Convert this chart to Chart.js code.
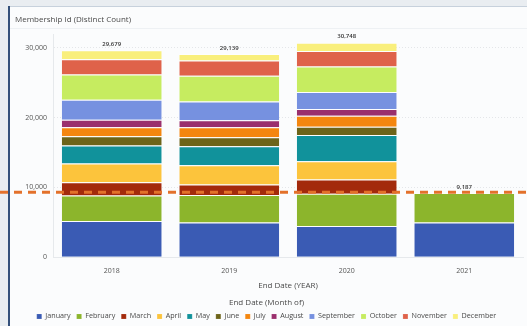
<!DOCTYPE html>
<html>
<head>
<meta charset="utf-8">
<script src="https://cdn.jsdelivr.net/npm/chart.js@4"></script>
<style>
  html, body { margin: 0; padding: 0; background: #e9edf1; }
  #wrap { position: absolute; left: 0; top: 0; width: 527px; height: 326px; }
</style>
</head>
<body>
<div id="wrap"><canvas id="membership"></canvas></div>
<script>
const years = ['2018', '2019', '2020', '2021'];
const months = ['January', 'February', 'March', 'April', 'May', 'June', 'July',
    'August', 'September', 'October', 'November', 'December'];

// distinct members per month, one value per year
const january   = [5190, 4960, 4470, 4960];
const february  = [3670, 3940, 4630, 4227];
const march     = [1900, 1530, 2040, null];
const april     = [2670, 2760, 2610, null];
const may       = [2570, 2710, 3770, null];
const june      = [1330, 1290, 1190, null];
const july      = [1290, 1430, 1570, null];
const august    = [1100, 1000, 960, null];
const september = [2860, 2710, 2430, null];
const october   = [3600, 3670, 3660, null];
const november  = [2200, 2190, 2240, null];
const december  = [1299, 949, 1178, null];

const yTicks = [0, 10000, 20000, 30000];
const referenceValue = 9300;

const monthValues = [january, february, march, april, may, june, july,
    august, september, october, november, december];
const monthColors = ['#3a5bb4', '#8cb52c', '#a32a0c', '#fcc43c', '#11929b', '#6d6419',
    '#f4860f', '#9a2f6d', '#7691e0', '#c6ec60', '#df624a', '#f9ef7c'];

const background = {
    id: 'background',
    beforeDraw(chart) {
        const ctx = chart.ctx;
        ctx.save();
        ctx.fillStyle = '#e9edf1';
        ctx.fillRect(0, 0, chart.width, chart.height);
        ctx.fillStyle = '#fbfcfd';
        ctx.fillRect(9, 7, chart.width - 9, chart.height - 7);
        ctx.fillStyle = '#c7d1dc';
        ctx.fillRect(9, 6, chart.width - 9, 1);
        ctx.fillStyle = '#34507a';
        ctx.fillRect(8, 6, 2, chart.height - 6);
        ctx.fillStyle = '#eef1f4';
        ctx.fillRect(10, 28, chart.width - 10, 1);
        ctx.fillStyle = '#4a4a4a';
        ctx.font = '8px "Open Sans"';
        ctx.textBaseline = 'middle';
        ctx.fillText('Membership Id (Distinct Count)', 15, 20);
        ctx.restore();
    }
};

const totals = {
    id: 'totals',
    afterDatasetsDraw(chart) {
        const ctx = chart.ctx;
        const x = chart.scales.x;
        const y = chart.scales.y;
        ctx.save();
        ctx.fillStyle = '#333';
        ctx.font = '600 6px "Open Sans"';
        ctx.textAlign = 'center';
        ctx.textBaseline = 'bottom';
        years.forEach((yr, i) => {
            let sum = 0;
            monthValues.forEach(m => { sum += m[i] || 0; });
            ctx.fillText(sum.toLocaleString('en-US'), x.getPixelForValue(i), y.getPixelForValue(sum) - 3);
        });
        // reference line
        const ry = y.getPixelForValue(referenceValue);
        ctx.strokeStyle = '#e3712b';
        ctx.lineWidth = 3;
        ctx.setLineDash([8, 6]);
        ctx.beginPath();
        ctx.moveTo(0, ry);
        ctx.lineTo(chart.width, ry);
        ctx.stroke();
        ctx.restore();
    }
};

const datasets = months.map((m, i) => ({
    label: m,
    data: monthValues[i],
    backgroundColor: monthColors[i],
    borderColor: 'rgba(255,255,255,0.6)',
    borderWidth: { top: 1 },
    borderSkipped: false,
    categoryPercentage: 0.85,
    barPercentage: 1.0
}));

const config = {
    type: 'bar',
    data: { labels: years, datasets: datasets },
    options: {
        responsive: true,
        maintainAspectRatio: false,
        animation: false,
        layout: { padding: { left: 10, right: 4, top: 34, bottom: -4 } },
        plugins: {
            legend: {
                position: 'bottom',
                title: {
                    display: true,
                    text: 'End Date (Month of)',
                    color: '#4a4a4a',
                    font: { family: 'Open Sans', size: 8 },
                    padding: { top: 2, bottom: -2 }
                },
                labels: {
                    boxWidth: 5,
                    boxHeight: 5,
                    padding: 6,
                    color: '#4a4a4a',
                    font: { family: 'Open Sans', size: 7.2 }
                }
            },
            tooltip: { enabled: false }
        },
        scales: {
            x: {
                stacked: true,
                afterFit: s => { s.height = 40; },
                grid: { display: false },
                border: { color: '#e6e9ec' },
                ticks: { color: '#555', font: { family: 'Open Sans', size: 7 }, padding: 2 },
                title: {
                    display: true,
                    text: 'End Date (YEAR)',
                    color: '#4a4a4a',
                    font: { family: 'Open Sans', size: 8 },
                    padding: { top: 2, bottom: 7 }
                }
            },
            y: {
                stacked: true,
                min: 0,
                max: 32000,
                afterFit: s => { s.width = 43; },
                afterBuildTicks: s => { s.ticks = yTicks.map(v => ({ value: v })); },
                grid: { color: '#e4e6e9', drawTicks: false },
                border: { color: '#e6e9ec', dash: [1, 2] },
                ticks: {
                    color: '#555',
                    font: { family: 'Open Sans', size: 7 },
                    padding: 6,
                    callback: v => v.toLocaleString('en-US')
                }
            }
        }
    },
    plugins: [background, totals]
};

new Chart(document.getElementById('membership'), config);
</script>
</body>
</html>
